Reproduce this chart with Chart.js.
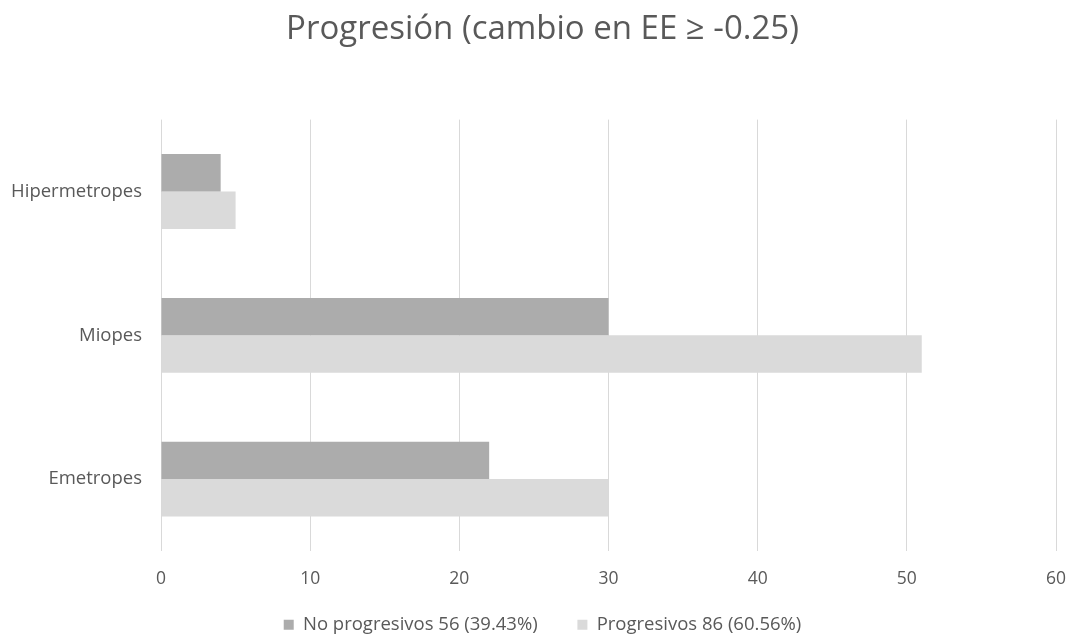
<!DOCTYPE html>
<html lang="es">
<head>
  <meta charset="UTF-8" />
  <title>Progresión (cambio en EE ≥ -0.25)</title>
  <script src="https://cdn.jsdelivr.net/npm/chart.js"></script>
  <style>
    html, body { margin: 0; padding: 0; background: #ffffff; }
    #wrap { width: 1075px; height: 636px; }
  </style>
</head>
<body>
  <div id="wrap"><canvas id="chart"></canvas></div>

  <script>
    // Chart data
    const categories = ['Hipermetropes', 'Miopes', 'Emetropes'];
    const noProgresivos = [4, 30, 22];
    const progresivos = [5, 51, 30];
    const seriesLabels = ['No progresivos 56 (39.43%)', 'Progresivos 86 (60.56%)'];
    const xTicks = [0, 10, 20, 30, 40, 50, 60];

    const textColor = '#595959';
    const fontFamily = "'Open Sans', 'Liberation Sans', sans-serif";

    const ctx = document.getElementById('chart').getContext('2d');
    new Chart(ctx, {
      type: 'bar',
      data: {
        labels: categories,
        datasets: [
          {
            label: seriesLabels[0],
            data: noProgresivos,
            backgroundColor: '#acacac',
            categoryPercentage: 0.52,
            barPercentage: 1.0
          },
          {
            label: seriesLabels[1],
            data: progresivos,
            backgroundColor: '#dadada',
            categoryPercentage: 0.52,
            barPercentage: 1.0
          }
        ]
      },
      options: {
        indexAxis: 'y',
        responsive: true,
        maintainAspectRatio: false,
        animation: false,
        layout: { padding: { left: 10, right: 0, top: 10, bottom: -8 } },
        plugins: {
          title: {
            display: true,
            text: 'Progresión (cambio en EE ≥ -0.25)',
            color: textColor,
            font: { family: fontFamily, size: 33, weight: 'normal' },
            padding: { top: 0, bottom: 70 }
          },
          legend: {
            position: 'bottom',
            labels: {
              color: textColor,
              font: { family: fontFamily, size: 18.5 },
              boxWidth: 10,
              boxHeight: 10,
              padding: 12,
              // wider gap after the first entry, like the original legend
              generateLabels: (chart) => {
                const items = Chart.defaults.plugins.legend.labels.generateLabels(chart);
                items[0].text += '\u2002\u2002\u2002';
                return items;
              }
            }
          },
          tooltip: { enabled: false }
        },
        scales: {
          x: {
            min: 0,
            max: 60,
            afterBuildTicks: (axis) => { axis.ticks = xTicks.map(v => ({ value: v })); },
            afterFit: (axis) => {
              axis.height = 52.5;
              axis.paddingLeft = 0;
              axis.paddingRight = 19;
            },
            grid: { color: '#d9d9d9', lineWidth: 1, drawTicks: false },
            border: { display: false },
            ticks: {
              color: textColor,
              font: { family: fontFamily, size: 17.5 },
              padding: 18
            }
          },
          y: {
            afterFit: (axis) => { axis.width = 151; },
            grid: { display: false },
            border: { display: false },
            ticks: {
              color: textColor,
              font: { family: fontFamily, size: 18.5 },
              padding: 11
            }
          }
        }
      }
    });
  </script>
</body>
</html>
